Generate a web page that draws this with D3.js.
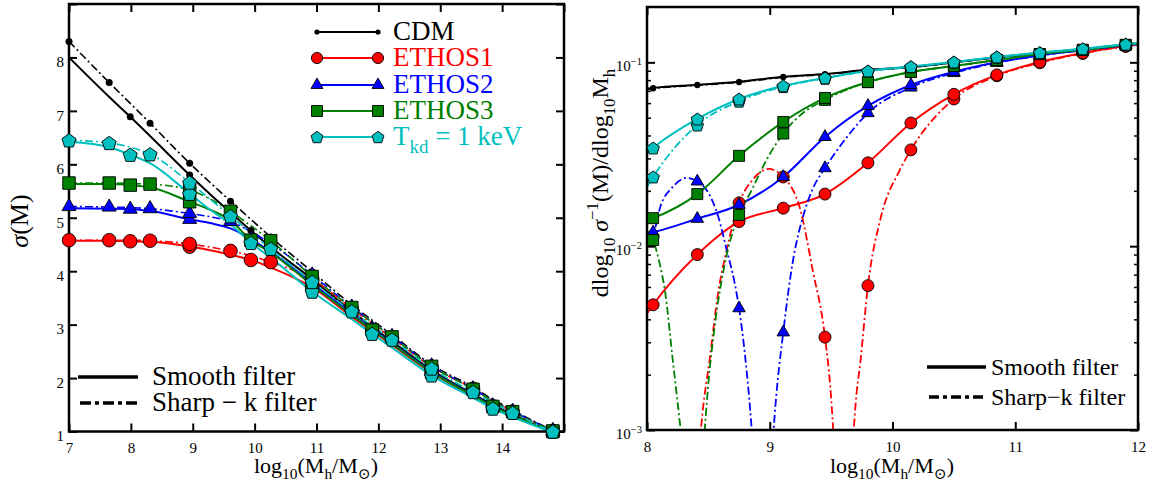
<!DOCTYPE html>
<html>
<head>
<meta charset="utf-8">
<script src="https://cdnjs.cloudflare.com/ajax/libs/d3/7.8.5/d3.min.js"></script>
<style>
  body { margin: 0; background: #fff; }
  svg { display: block; }
  text { font-family: "Liberation Serif", "DejaVu Serif", serif; white-space: pre; }
</style>
</head>
<body>
<div id="chart"></div>
<script>
// ---------- left panel data: sigma(M) vs log10 M ----------
const xL = [7.0, 7.65, 7.99, 8.31, 8.95, 9.28, 9.61, 9.94, 10.26, 10.93, 11.57, 11.90, 12.22, 12.86, 13.53, 13.85, 14.17, 14.82, 15.0]
const sigCDM  = [8.00, 7.26, 6.89, 6.53, 5.80, 5.44, 5.10, 4.76, 4.45, 3.85, 3.25, 2.96, 2.69, 2.15, 1.70, 1.50, 1.32, 1.00, 0.92]
const sigCDMk = [8.30, 7.53, 7.14, 6.77, 6.02, 5.66, 5.31, 4.97, 4.64, 3.99, 3.37, 3.08, 2.81, 2.25, 1.83, 1.60, 1.40, 1.02, 0.93]
const sigE1   = [4.57, 4.57, 4.56, 4.55, 4.46, 4.39, 4.31, 4.21, 4.07, 3.70, 3.15, 2.88, 2.62, 2.10, 1.66, 1.47, 1.29, 0.99, 0.91]
const sigE1k  = [4.58, 4.58, 4.58, 4.57, 4.51, 4.45, 4.38, 4.29, 4.17, 3.85, 3.30, 3.02, 2.75, 2.21, 1.80, 1.57, 1.37, 1.01, 0.92]
const sigE2   = [5.18, 5.17, 5.16, 5.13, 4.97, 4.90, 4.80, 4.60, 4.36, 3.78, 3.20, 2.92, 2.65, 2.12, 1.68, 1.48, 1.30, 0.99, 0.91]
const sigE2k  = [5.21, 5.20, 5.19, 5.17, 5.08, 5.02, 4.93, 4.74, 4.52, 3.93, 3.33, 3.05, 2.78, 2.23, 1.80, 1.58, 1.38, 1.02, 0.93]
const sigE3   = [5.63, 5.63, 5.61, 5.57, 5.30, 5.15, 4.95, 4.58, 4.35, 3.74, 3.18, 2.90, 2.64, 2.11, 1.67, 1.47, 1.30, 0.99, 0.91]
const sigE3k  = [5.65, 5.65, 5.64, 5.63, 5.52, 5.35, 5.12, 4.85, 4.57, 3.90, 3.32, 3.04, 2.77, 2.22, 1.79, 1.57, 1.37, 1.01, 0.92]
const sigTkd  = [6.42, 6.32, 6.18, 6.02, 5.45, 5.15, 4.88, 4.53, 4.25, 3.62, 3.10, 2.83, 2.57, 2.05, 1.63, 1.43, 1.27, 0.98, 0.90]
const sigTkdk = [6.45, 6.40, 6.32, 6.19, 5.66, 5.35, 5.03, 4.72, 4.42, 3.80, 3.25, 2.98, 2.72, 2.18, 1.74, 1.54, 1.35, 1.00, 0.92]
const marksL  = [7.99, 8.95, 9.94, 10.93, 11.90, 12.86, 13.85, 14.82]
const marksLk = [7.0, 7.65, 8.31, 8.95, 9.61, 10.26, 10.93, 11.57, 12.22, 12.86, 13.53, 14.17, 14.82]
const xTicksL = [7, 8, 9, 10, 11, 12, 13, 14, 15]
const yTicksL = [1, 2, 3, 4, 5, 6, 7, 8, 9]

// ---------- right panel data: dlog sigma^-1 / dlog M ----------
const marksR = [8.05, 8.41, 8.75, 9.11, 9.45, 9.80, 10.15, 10.50, 10.85, 11.20, 11.55, 11.90]
const rCDM  = [[8.0,0.0720],[8.05,0.0726],[8.41,0.0755],[8.75,0.0785],[9.11,0.0834],[9.45,0.0865],[9.80,0.0910],[10.15,0.0944],[10.50,0.1000],[10.85,0.1065],[11.20,0.1125],[11.55,0.1180],[11.90,0.1250],[12.0,0.1270]]
const rCDMk = [[8.0,0.0712],[8.05,0.0720],[8.41,0.0750],[8.75,0.0780],[9.11,0.0830],[9.45,0.0860],[9.80,0.0905],[10.15,0.0940],[10.50,0.0998],[10.85,0.1062],[11.20,0.1122],[11.55,0.1178],[11.90,0.1248],[12.0,0.1268]]
const rE1   = [[8.0,0.0043],[8.05,0.0048],[8.41,0.0090],[8.75,0.0136],[9.11,0.0161],[9.45,0.0192],[9.80,0.0284],[10.15,0.0468],[10.50,0.0670],[10.85,0.0854],[11.20,0.1005],[11.55,0.1125],[11.90,0.1228],[12.0,0.1250]]
const rE1k  = [[8.42,0.0007],[8.45,0.0012],[8.51,0.0024],[8.58,0.0056],[8.65,0.0096],[8.75,0.0172],[8.85,0.0225],[8.99,0.0263],[9.11,0.0238],[9.25,0.0157],[9.35,0.0074],[9.45,0.0032],[9.50,0.0015],[9.53,0.0007],[9.60,null],
               [9.67,0.0007],[9.70,0.0014],[9.74,0.0024],[9.80,0.0061],[9.90,0.0139],[10.06,0.0260],[10.15,0.0334],[10.50,0.0632],[10.85,0.0845],[11.20,0.0995],[11.55,0.1118],[11.90,0.1220],[12.0,0.1245]]
const rE2   = [[8.0,0.0117],[8.05,0.0119],[8.41,0.0141],[8.75,0.0168],[9.11,0.0238],[9.45,0.0393],[9.80,0.0580],[10.15,0.0753],[10.50,0.0887],[10.85,0.1000],[11.20,0.1090],[11.55,0.1165],[11.90,0.1240],[12.0,0.1260]]
const rE2k  = [[8.0,0.0108],[8.05,0.0116],[8.11,0.0165],[8.21,0.0210],[8.32,0.0235],[8.41,0.0225],[8.50,0.0195],[8.58,0.0145],[8.65,0.0095],[8.71,0.0065],[8.75,0.0046],[8.80,0.0025],[8.84,0.0013],[8.87,0.0007],[8.95,null],
               [9.01,0.0006],[9.04,0.0012],[9.11,0.0034],[9.19,0.0084],[9.27,0.0144],[9.35,0.0205],[9.45,0.0266],[9.63,0.0393],[9.80,0.0530],[10.15,0.0730],[10.50,0.0875],[10.85,0.0995],[11.20,0.1088],[11.55,0.1163],[11.90,0.1238],[12.0,0.1258]]
const rE3   = [[8.0,0.0138],[8.05,0.0142],[8.41,0.0192],[8.75,0.0310],[9.11,0.0474],[9.45,0.0640],[9.80,0.0782],[10.15,0.0887],[10.50,0.0956],[10.85,0.1030],[11.20,0.1110],[11.55,0.1170],[11.90,0.1245],[12.0,0.1265]]
const rE3k  = [[8.0,0.0122],[8.05,0.0108],[8.10,0.0082],[8.15,0.0055],[8.21,0.0024],[8.25,0.0014],[8.29,0.0008],[8.38,null],
               [8.46,0.0008],[8.50,0.0018],[8.55,0.0036],[8.64,0.0084],[8.75,0.0148],[8.85,0.0200],[8.98,0.0300],[9.11,0.0410],[9.27,0.0530],[9.45,0.0625],[9.80,0.0780],[10.15,0.0885],[10.50,0.0955],[10.85,0.1028],[11.20,0.1108],[11.55,0.1168],[11.90,0.1243],[12.0,0.1263]]
const rTkd  = [[8.0,0.0320],[8.05,0.0342],[8.41,0.0492],[8.75,0.0632],[9.11,0.0745],[9.45,0.0823],[9.80,0.0898],[10.15,0.0948],[10.50,0.1005],[10.85,0.1070],[11.20,0.1130],[11.55,0.1185],[11.90,0.1255],[12.0,0.1275]]
const rTkdk = [[8.0,0.0210],[8.05,0.0238],[8.41,0.0456],[8.75,0.0615],[9.11,0.0738],[9.45,0.0820],[9.80,0.0895],[10.15,0.0945],[10.50,0.1002],[10.85,0.1068],[11.20,0.1128],[11.55,0.1183],[11.90,0.1253],[12.0,0.1273]]
const xTicksR = [8, 9, 10, 11, 12]
const yTicksR = [1e-3, 1e-2, 1e-1]
const yMinorR = [2e-3,3e-3,4e-3,5e-3,6e-3,7e-3,8e-3,9e-3,2e-2,3e-2,4e-2,5e-2,6e-2,7e-2,8e-2,9e-2]

const names = ['CDM', 'ETHOS1', 'ETHOS2', 'ETHOS3', 'Tkd']
const colors = ['#000000', '#ff0000', '#0000ff', '#008000', '#00bfbf']
const shapes = ['dot', 'circle', 'tri', 'sq', 'pent']

const W = 1162, H = 485
const svg = d3.select('#chart').append('svg').attr('width', W).attr('height', H)

const DASH = '8,3,2,3'

function markPath(shape, s) {
  if (shape === 'pent') {
    const pts = d3.range(5).map(k => {
      const a = (-90 + 72 * k) * Math.PI / 180
      return [s.pent * Math.cos(a), s.pent * Math.sin(a) + s.pent * 0.1]
    })
    return 'M' + pts.map(p => p.join(',')).join('L') + 'Z'
  }
  if (shape === 'dot') return d3.symbol().type(d3.symbolCircle).size(Math.PI * s.dot * s.dot)()
  if (shape === 'circle') return d3.symbol().type(d3.symbolCircle).size(Math.PI * s.circ * s.circ)()
  if (shape === 'tri') return d3.symbol().type(d3.symbolTriangle).size(Math.sqrt(3) / 4 * s.tri * s.tri)()
  return d3.symbol().type(d3.symbolSquare).size(s.sq * s.sq)()
}

function drawMark(g, shape, cx, cy, s, color) {
  g.append('path').attr('d', markPath(shape, s))
    .attr('transform', `translate(${cx},${cy})`)
    .attr('fill', color)
    .attr('stroke', shape === 'dot' ? 'none' : '#000')
    .attr('stroke-width', 0.9)
}

// text with sub / superscripts
function rich(t, parts, fs) {
  let shift = 0
  parts.forEach(([s, m]) => {
    const ts = t.append('tspan').text(s)
    let target = 0, size = fs
    if (m === 'sub') { target = fs * 0.28; size = fs * 0.7 }
    if (m === 'sup') { target = -fs * 0.42; size = fs * 0.7 }
    ts.attr('dy', target - shift).attr('font-size', size)
    if (m === 'i') ts.attr('font-style', 'italic')
    shift = target
  })
  return t
}

function styleAxis(g, fs) {
  g.attr('font-size', fs).attr('font-family', null)
  g.select('.domain').remove()
  g.selectAll('.tick line').attr('stroke-width', 2)
  g.selectAll('.tick text').attr('fill', '#000')
}

const lineOf = (x, y) => d3.line().defined(d => d[1] != null)
  .x(d => x(d[0])).y(d => y(d[1])).curve(d3.curveMonotoneX)

// ================= LEFT PANEL =================
const L = { x0: 69, x1: 564, y0: 4, y1: 431.5 }
const xl = d3.scaleLinear().domain([7, 15]).range([L.x0, L.x1])
const yl = d3.scaleLinear().domain([1, 9]).range([L.y1, L.y0])
const sL = { dot: 3.5, circ: 6.8, tri: 14, sq: 12.5, pent: 7.4 }

svg.append('clipPath').attr('id', 'clipL').append('rect')
  .attr('x', L.x0).attr('y', L.y0).attr('width', L.x1 - L.x0).attr('height', L.y1 - L.y0)

const smoothL = [sigCDM, sigE1, sigE2, sigE3, sigTkd]
const sharpL = [sigCDMk, sigE1k, sigE2k, sigE3k, sigTkdk]
const lineL = lineOf(xl, yl)
const gLinesL = svg.append('g').attr('clip-path', 'url(#clipL)')
const gMarksL = svg.append('g')

names.forEach((n, i) => {
  const sm = d3.zip(xL, smoothL[i])
  const sh = d3.zip(xL, sharpL[i])
  const gl = gLinesL.append('g')
  gl.append('path').attr('d', lineL(sm)).attr('fill', 'none').attr('stroke', colors[i]).attr('stroke-width', 2)
  gl.append('path').attr('d', lineL(sh)).attr('fill', 'none').attr('stroke', colors[i]).attr('stroke-width', 1.6).attr('stroke-dasharray', DASH)
  const gm = gMarksL.append('g')
  sm.filter(d => marksL.includes(d[0]) && d[1] >= 0.98).forEach(d => drawMark(gm, shapes[i], xl(d[0]), yl(Math.max(d[1], 1)), sL, colors[i]))
  sh.filter(d => marksLk.includes(d[0]) && d[1] >= 0.98).forEach(d => drawMark(gm, shapes[i], xl(d[0]), yl(Math.max(d[1], 1)), sL, colors[i]))
})

// left axes
svg.append('g').attr('transform', `translate(0,${L.y1})`)
  .call(d3.axisBottom(xl).tickValues(xTicksL).tickSizeInner(-8).tickSizeOuter(0).tickPadding(11).tickFormat(d => d < 15 ? d : ''))
  .call(g => styleAxis(g, 15))
svg.append('g').attr('transform', `translate(0,${L.y0})`)
  .call(d3.axisTop(xl).tickValues(xTicksL).tickSizeInner(-8).tickSizeOuter(0).tickFormat(''))
  .call(g => styleAxis(g, 15))
svg.append('g').attr('transform', `translate(${L.x0},0)`)
  .call(d3.axisLeft(yl).tickValues(yTicksL).tickSizeInner(-8).tickSizeOuter(0).tickPadding(5).tickFormat(d => d < 9 ? d : ''))
  .call(g => styleAxis(g, 15))
  .call(g => g.selectAll('.tick text').attr('dy', '0.62em'))
svg.append('g').attr('transform', `translate(${L.x1},0)`)
  .call(d3.axisRight(yl).tickValues(yTicksL).tickSizeInner(-8).tickSizeOuter(0).tickFormat(''))
  .call(g => styleAxis(g, 15))
svg.append('rect').attr('x', L.x0).attr('y', L.y0).attr('width', L.x1 - L.x0).attr('height', L.y1 - L.y0)
  .attr('fill', 'none').attr('stroke', '#000').attr('stroke-width', 2.5)
gMarksL.raise()

// left labels
rich(svg.append('text').attr('x', 316).attr('y', 473).attr('text-anchor', 'middle').attr('font-size', 22),
  [['log', 'n'], ['10', 'sub'], ['(M', 'n'], ['h', 'sub'], ['/M', 'n'], ['\u2299', 'sub'], [')', 'n']], 22)
rich(svg.append('text').attr('transform', 'translate(28,221) rotate(-90)').attr('text-anchor', 'middle').attr('font-size', 26),
  [['\u03c3', 'i'], ['(M)', 'n']], 26)

// left model legend
const legRows = [32, 58, 85, 111, 137]
const legLabels = [[['CDM', 'n']], [['ETHOS1', 'n']], [['ETHOS2', 'n']], [['ETHOS3', 'n']], [['T', 'n'], ['kd', 'sub'], [' = 1 keV', 'n']]]
const sLeg = { dot: 2.6, circ: 5.6, tri: 12, sq: 11, pent: 6.3 }
names.forEach((n, i) => {
  const y = legRows[i]
  svg.append('line').attr('x1', 317).attr('x2', 378).attr('y1', y).attr('y2', y)
    .attr('stroke', colors[i]).attr('stroke-width', 2)
  drawMark(svg, shapes[i], 317, y, sLeg, colors[i])
  drawMark(svg, shapes[i], 378, y, sLeg, colors[i])
  rich(svg.append('text').attr('x', 393).attr('y', y + 8).attr('font-size', 27).attr('fill', colors[i]), legLabels[i], 27)
})

// left filter legend
svg.append('line').attr('x1', 78).attr('x2', 138).attr('y1', 377).attr('y2', 377).attr('stroke', '#000').attr('stroke-width', 3.5)
svg.append('line').attr('x1', 80).attr('x2', 138).attr('y1', 403).attr('y2', 403).attr('stroke', '#000').attr('stroke-width', 3.5).attr('stroke-dasharray', '11,4,4,4')
svg.append('text').attr('x', 152).attr('y', 385).attr('font-size', 27).text('Smooth filter')
svg.append('text').attr('x', 152).attr('y', 411).attr('font-size', 27).text('Sharp \u2212 k filter')

// ================= RIGHT PANEL =================
const R = { x0: 647, x1: 1138, y0: 7, y1: 430 }
const xr = d3.scaleLinear().domain([8, 12]).range([R.x0, R.x1])
const yr = d3.scaleLog().domain([1e-3, 0.2]).range([R.y1, R.y0])
const sR = { dot: 3, circ: 6, tri: 12.5, sq: 11, pent: 6.6 }

svg.append('clipPath').attr('id', 'clipR').append('rect')
  .attr('x', R.x0).attr('y', R.y0).attr('width', R.x1 - R.x0).attr('height', R.y1 - R.y0)

const smoothR = [rCDM, rE1, rE2, rE3, rTkd]
const sharpR = [rCDMk, rE1k, rE2k, rE3k, rTkdk]
const lineR = lineOf(xr, yr)
const gLinesR = svg.append('g').attr('clip-path', 'url(#clipR)')
const gMarksR = svg.append('g')

names.forEach((n, i) => {
  const gl = gLinesR.append('g')
  gl.append('path').attr('d', lineR(smoothR[i])).attr('fill', 'none').attr('stroke', colors[i]).attr('stroke-width', 2)
  gl.append('path').attr('d', lineR(sharpR[i])).attr('fill', 'none').attr('stroke', colors[i]).attr('stroke-width', 1.8).attr('stroke-dasharray', DASH)
  const gm = gMarksR.append('g')
  const inRange = d => d[1] != null && marksR.includes(d[0]) && d[1] >= 1e-3 && d[1] <= 0.2
  sharpR[i].filter(inRange).forEach(d => drawMark(gm, shapes[i], xr(d[0]), yr(d[1]), sR, colors[i]))
  smoothR[i].filter(inRange).forEach(d => drawMark(gm, shapes[i], xr(d[0]), yr(d[1]), sR, colors[i]))
})

// right axes
svg.append('g').attr('transform', `translate(0,${R.y1})`)
  .call(d3.axisBottom(xr).tickValues(xTicksR).tickSizeInner(-8).tickSizeOuter(0).tickPadding(11).tickFormat(d3.format('d')))
  .call(g => styleAxis(g, 15))
svg.append('g').attr('transform', `translate(0,${R.y0})`)
  .call(d3.axisTop(xr).tickValues(xTicksR).tickSizeInner(-8).tickSizeOuter(0).tickFormat(''))
  .call(g => styleAxis(g, 15))
;[[R.x0, d3.axisLeft], [R.x1, d3.axisRight]].forEach(([xx, ax]) => {
  svg.append('g').attr('transform', `translate(${xx},0)`)
    .call(ax(yr).tickValues(yTicksR).tickSizeInner(-8).tickSizeOuter(0).tickFormat(''))
    .call(g => styleAxis(g, 15))
  svg.append('g').attr('transform', `translate(${xx},0)`)
    .call(ax(yr).tickValues(yMinorR).tickSizeInner(-4).tickSizeOuter(0).tickFormat(''))
    .call(g => styleAxis(g, 15))
    .call(g => g.selectAll('.tick line').attr('stroke-width', 1.5))
})
yTicksR.forEach(v => {
  const e = Math.round(Math.log10(v))
  rich(svg.append('text').attr('x', 642).attr('y', yr(v) + 9).attr('text-anchor', 'end').attr('font-size', 15),
    [['10', 'n'], ['\u2212' + (-e), 'sup']], 15)
})
svg.append('rect').attr('x', R.x0).attr('y', R.y0).attr('width', R.x1 - R.x0).attr('height', R.y1 - R.y0)
  .attr('fill', 'none').attr('stroke', '#000').attr('stroke-width', 2.5)
gMarksR.raise()

// right labels
rich(svg.append('text').attr('x', 892).attr('y', 473).attr('text-anchor', 'middle').attr('font-size', 22),
  [['log', 'n'], ['10', 'sub'], ['(M', 'n'], ['h', 'sub'], ['/M', 'n'], ['\u2299', 'sub'], [')', 'n']], 22)
rich(svg.append('text').attr('transform', 'translate(608,183) rotate(-90)').attr('text-anchor', 'middle').attr('font-size', 24),
  [['dlog', 'n'], ['10', 'sub'], [' ', 'n'], ['\u03c3', 'i'], ['\u22121', 'sup'], ['(M)/dlog', 'n'], ['10', 'sub'], ['M', 'n'], ['h', 'sub']], 24)

// right filter legend
svg.append('line').attr('x1', 927).attr('x2', 986).attr('y1', 367).attr('y2', 367).attr('stroke', '#000').attr('stroke-width', 3.5)
svg.append('line').attr('x1', 929).attr('x2', 986).attr('y1', 397).attr('y2', 397).attr('stroke', '#000').attr('stroke-width', 3.5).attr('stroke-dasharray', '10,4,4,4')
svg.append('text').attr('x', 991).attr('y', 375).attr('font-size', 24).text('Smooth filter')
svg.append('text').attr('x', 991).attr('y', 405).attr('font-size', 24).text('Sharp\u2212k filter')
</script>
</body>
</html>
